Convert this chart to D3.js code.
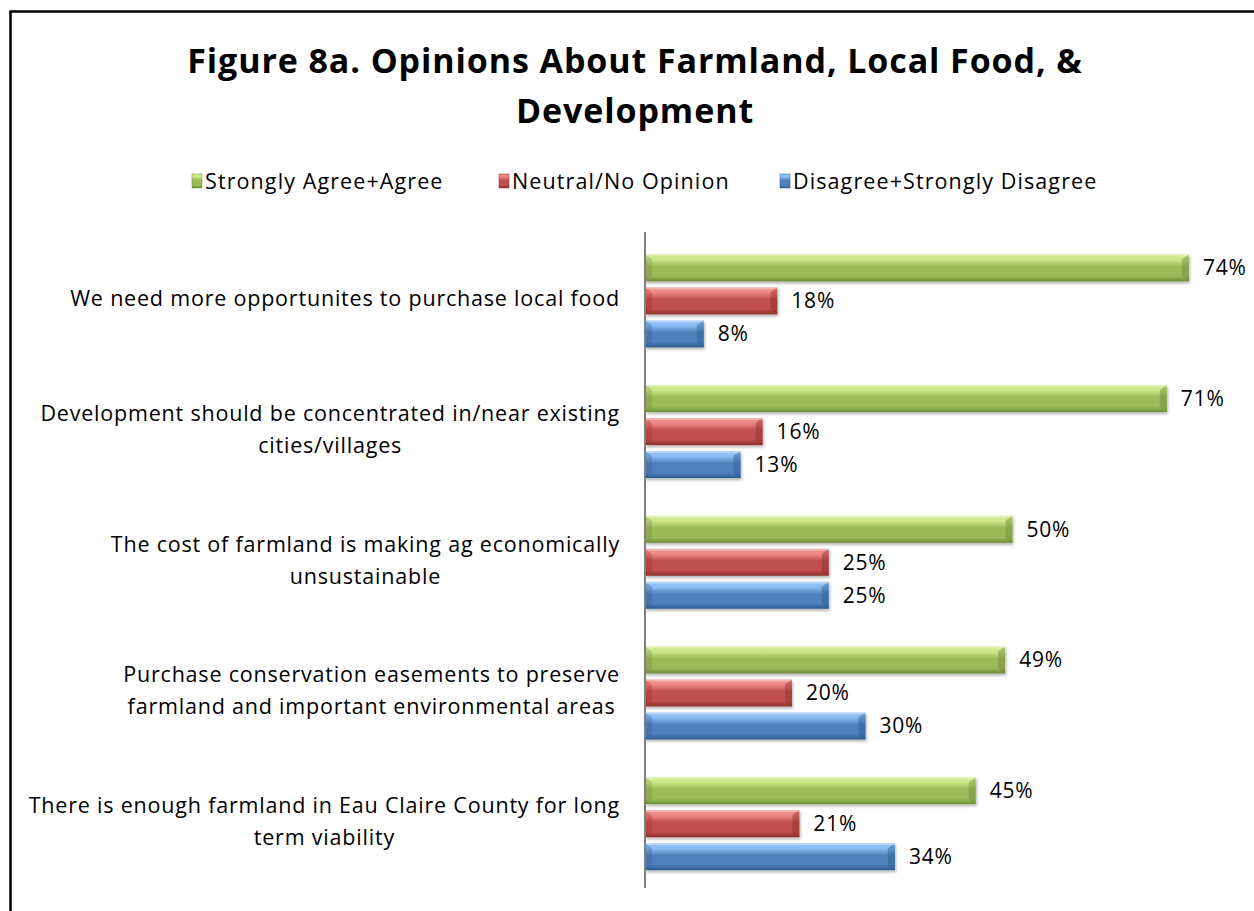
<!DOCTYPE html>
<html>
<head>
<meta charset="utf-8">
<script src="https://cdn.jsdelivr.net/npm/d3@7"></script>
<style>
  html, body { margin: 0; padding: 0; background: #fff; }
  svg { display: block; }
  text { font-family: "Open Sans", Lato, sans-serif; fill: #000; }
</style>
</head>
<body>
<svg id="chart" width="1254" height="911"></svg>
<script>
// ---- data ----
const titleLines = ["Figure 8a. Opinions About Farmland, Local Food, &", "Development"];
const categories = [
  ["We need more opportunites to purchase local food"],
  ["Development should be concentrated in/near existing", "cities/villages"],
  ["The cost of farmland is making ag economically", "unsustainable"],
  ["Purchase conservation easements to preserve", "farmland and important environmental areas"],
  ["There is enough farmland in Eau Claire County for long", "term viability"]
];
const seriesNames = ["Strongly Agree+Agree", "Neutral/No Opinion", "Disagree+Strongly Disagree"];
const agree    = [74, 71, 50, 49, 45];
const neutral  = [18, 16, 25, 20, 21];
const disagree = [8, 13, 25, 30, 34];
const seriesValues = [agree, neutral, disagree];
const seriesColors = [
  {base: "#9bbb59", light: "#cfe88a", dark: "#6f8c33"},
  {base: "#c0504d", light: "#f08a86", dark: "#8e2f2c"},
  {base: "#4f81bd", light: "#8cc0f5", dark: "#2c5a8e"}
];

const svg = d3.select("#chart");
const W = 1254, H = 911;

// frame
svg.append("path")
  .attr("d", `M10.5,${H+5} L10.5,11.5 L${W+5},11.5`)
  .attr("fill", "none").attr("stroke", "#000").attr("stroke-width", 2.5);

// gradients
const defs = svg.append("defs");
seriesColors.forEach((c, i) => {
  const g = defs.append("linearGradient").attr("id", "grad" + i)
    .attr("x1", 0).attr("y1", 0).attr("x2", 0).attr("y2", 1);
  g.append("stop").attr("offset", "0%").attr("stop-color", c.light);
  g.append("stop").attr("offset", "18%").attr("stop-color", c.light);
  g.append("stop").attr("offset", "45%").attr("stop-color", c.base);
  g.append("stop").attr("offset", "80%").attr("stop-color", c.base);
  g.append("stop").attr("offset", "100%").attr("stop-color", c.dark);
});
const shadow = defs.append("filter").attr("id", "shadow")
  .attr("x", "-5%").attr("y", "-20%").attr("width", "110%").attr("height", "160%");
shadow.append("feDropShadow").attr("dx", 1).attr("dy", 2).attr("stdDeviation", 1.5)
  .attr("flood-color", "#000").attr("flood-opacity", 0.3);

// title
svg.append("g").selectAll("text").data(titleLines).join("text")
  .attr("x", 635).attr("y", (d, i) => 73 + i * 50)
  .attr("text-anchor", "middle")
  .style("font-size", "34px").style("font-weight", "bold").style("letter-spacing", "0.9px")
  .text(d => d);

// legend
const legendX = [192, 499, 780];
const lg = svg.append("g").selectAll("g").data(seriesNames).join("g")
  .attr("transform", (d, i) => `translate(${legendX[i]},181)`);
lg.append("rect").attr("x", 0).attr("y", -7).attr("width", 10).attr("height", 14)
  .attr("fill", (d, i) => `url(#grad${i})`).attr("stroke", (d, i) => seriesColors[i].dark).attr("stroke-width", 0.5);
lg.append("text").attr("x", 13).attr("y", 0).attr("dy", "0.35em")
  .style("font-size", "21.5px").style("letter-spacing", "1.1px").text(d => d);

// scales
const x = d3.scaleLinear().domain([0, 80]).range([645, 645 + 80 * 7.35]);
const y = d3.scaleBand().domain(d3.range(categories.length)).range([235.5, 889]).padding(0);
const barOffset = d3.scalePoint().domain([0, 1, 2]).range([-33, 33]);
const barH = 27;

// bars
const groups = svg.append("g").selectAll("g").data(categories).join("g")
  .attr("transform", (d, i) => `translate(0,${y(i) + y.bandwidth() / 2})`);

seriesValues.forEach((vals, s) => {
  const bg = groups.append("g").attr("filter", "url(#shadow)");
  bg.append("rect")
    .attr("x", x(0))
    .attr("y", (d, i) => barOffset(s) - barH / 2)
    .attr("width", (d, i) => x(vals[i]) - x(0))
    .attr("height", barH)
    .attr("fill", `url(#grad${s})`);
  bg.append("path")
    .attr("d", (d, i) => {
      const x1 = x(vals[i]), yt = barOffset(s) - barH / 2, yb = yt + barH;
      return `M${x1},${yt} L${x1 - 7},${yt + 5} L${x1 - 7},${yb - 5} L${x1},${yb} Z`;
    })
    .attr("fill", seriesColors[s].dark).attr("opacity", 0.45);
  bg.append("path")
    .attr("d", (d, i) => {
      const x0 = x(0), yt = barOffset(s) - barH / 2, yb = yt + barH;
      return `M${x0},${yt} L${x0 + 7},${yt + 5} L${x0 + 7},${yb - 5} L${x0},${yb} Z`;
    })
    .attr("fill", seriesColors[s].dark).attr("opacity", 0.3);
  bg.append("rect")
    .attr("x", x(0))
    .attr("y", (d, i) => barOffset(s) - barH / 2)
    .attr("width", (d, i) => x(vals[i]) - x(0))
    .attr("height", 2)
    .attr("fill", "#fff").attr("opacity", 0.35);
  groups.append("text")
    .attr("x", (d, i) => x(vals[i]) + 14)
    .attr("y", barOffset(s)).attr("dy", "0.35em")
    .style("font-size", "21px").style("letter-spacing", "0.8px")
    .text((d, i) => vals[i] + "%");
});

// axis line
svg.append("line").attr("x1", 645).attr("x2", 645).attr("y1", 232).attr("y2", 888)
  .attr("stroke", "#808080").attr("stroke-width", 2);

// category labels: right-aligned block, centered lines
groups.each(function(lines) {
  const g = d3.select(this);
  const t = g.append("text").style("font-size", "21.5px").style("letter-spacing", "0.8px")
    .attr("text-anchor", "middle");
  const lineH = 32;
  const y0 = -((lines.length - 1) * lineH) / 2 - 2;
  lines.forEach((l, k) => t.append("tspan").attr("x", 0).attr("y", y0 + k * lineH).attr("dy", "0.35em").text(l));
  let maxW = 0;
  t.selectAll("tspan").each(function() { maxW = Math.max(maxW, this.getComputedTextLength()); });
  t.selectAll("tspan").attr("x", 620 - maxW / 2);
});
</script>
</body>
</html>
